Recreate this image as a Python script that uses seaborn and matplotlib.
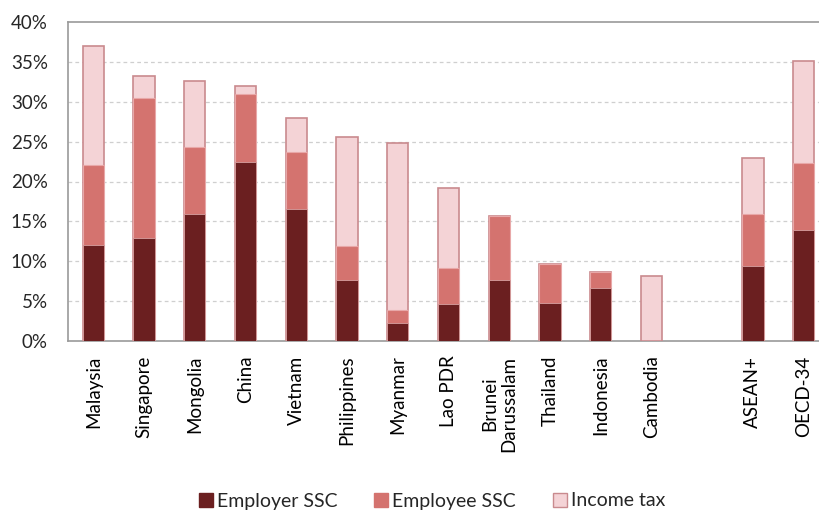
import matplotlib
matplotlib.use("Agg")
import matplotlib.pyplot as plt
import seaborn as sns
import pandas as pd
import numpy as np
from matplotlib.ticker import FuncFormatter, FixedLocator
from matplotlib.patches import Patch

countries = ["Malaysia", "Singapore", "Mongolia", "China", "Vietnam", "Philippines",
             "Myanmar", "Lao PDR", "Brunei\nDarussalam", "Thailand", "Indonesia",
             "Cambodia", "ASEAN+", "OECD-34"]
employer_ssc = [12.0, 12.9, 15.9, 22.4, 16.5, 7.6, 2.3, 4.6, 7.7, 4.8, 6.6, 0.0, 9.4, 13.9]
employee_ssc = [10.1, 17.6, 8.4, 8.6, 7.2, 4.3, 1.6, 4.5, 8.0, 4.9, 2.0, 0.0, 6.5, 8.4]
income_tax = [14.9, 2.7, 8.3, 1.0, 4.2, 13.7, 20.9, 10.1, 0.0, 0.0, 0.0, 8.2, 7.0, 12.8]
series_names = ["Employer SSC", "Employee SSC", "Income tax"]
gap_label = " "
order = countries[:12] + [gap_label] + countries[12:]

c_employer = "#6B1F20"
c_employee = "#D4736F"
c_income = "#F4D3D6"
edge_income = "#C98A8E"

df = pd.DataFrame({
    "country": countries,
    "employer": np.array(employer_ssc) / 100,
    "employee": np.array(employee_ssc) / 100,
    "income": np.array(income_tax) / 100,
})
df["lvl2"] = df["employer"] + df["employee"]
df["lvl3"] = df["lvl2"] + df["income"]

sns.set_style("white")
plt.rcParams["font.family"] = ["Lato", "DejaVu Sans"]

fig = plt.figure(figsize=(8.2, 5.13), dpi=100)
ax = fig.add_axes([68 / 820, 1 - 341 / 513, 761 / 820, 319 / 513])

bw = 0.42
sns.barplot(data=df, x="country", y="lvl3", order=order, color=c_income, saturation=1,
            width=bw, edgecolor=edge_income, linewidth=1.2, errorbar=None, ax=ax, zorder=3)
sns.barplot(data=df, x="country", y="lvl2", order=order, color=c_employee, saturation=1,
            width=bw, edgecolor="#E8A8A8", linewidth=0.8, errorbar=None, ax=ax, zorder=4)
sns.barplot(data=df, x="country", y="employer", order=order, color=c_employer, saturation=1,
            width=bw, edgecolor="#D8A0A0", linewidth=0.6, errorbar=None, ax=ax, zorder=5)

ax.set_xlim(-0.5, len(order) - 0.5)
ax.set_ylim(0, 0.40)
ax.set_yticks(np.arange(0, 0.401, 0.05))
ax.yaxis.set_major_formatter(FuncFormatter(lambda v, p: f"{v * 100:.0f}%"))
ax.set_xlabel("")
ax.set_ylabel("")

for y in np.arange(0.05, 0.36, 0.05):
    ax.axhline(y, color="#CFCFCF", linestyle=(0, (3, 2.5)), linewidth=0.9, zorder=1)

ax.spines["right"].set_visible(False)
for s in ["left", "bottom", "top"]:
    ax.spines[s].set_color("#9A9A9A")
    ax.spines[s].set_linewidth(1.2)

ax.tick_params(axis="x", which="major", length=0, pad=10.5, labelsize=13.5,
               labelrotation=90, colors="#000000")
ax.xaxis.set_minor_locator(FixedLocator(np.arange(-0.5, len(order), 1.0)))
ax.tick_params(axis="x", which="minor", length=6, width=1.2, color="#9A9A9A", direction="out")
ax.tick_params(axis="y", length=5, width=1.2, color="#9A9A9A", labelsize=13.5, pad=9.5, direction="out")
for lab in ax.get_xticklabels():
    lab.set_verticalalignment("top")
    lab.set_horizontalalignment("center")
    lab.set_multialignment("center")

handles = [Patch(facecolor=c_employer, edgecolor=c_employer),
           Patch(facecolor=c_employee, edgecolor=c_employee),
           Patch(facecolor=c_income, edgecolor=edge_income)]
fig.legend(handles, series_names, loc="center", bbox_to_anchor=(432 / 820, 1 - 501 / 513),
           ncol=3, frameon=False, fontsize=14, handlelength=0.72, handleheight=0.72,
           handletextpad=0.2, columnspacing=1.9, borderpad=0, borderaxespad=0)

fig.savefig("out.png", dpi=100)
